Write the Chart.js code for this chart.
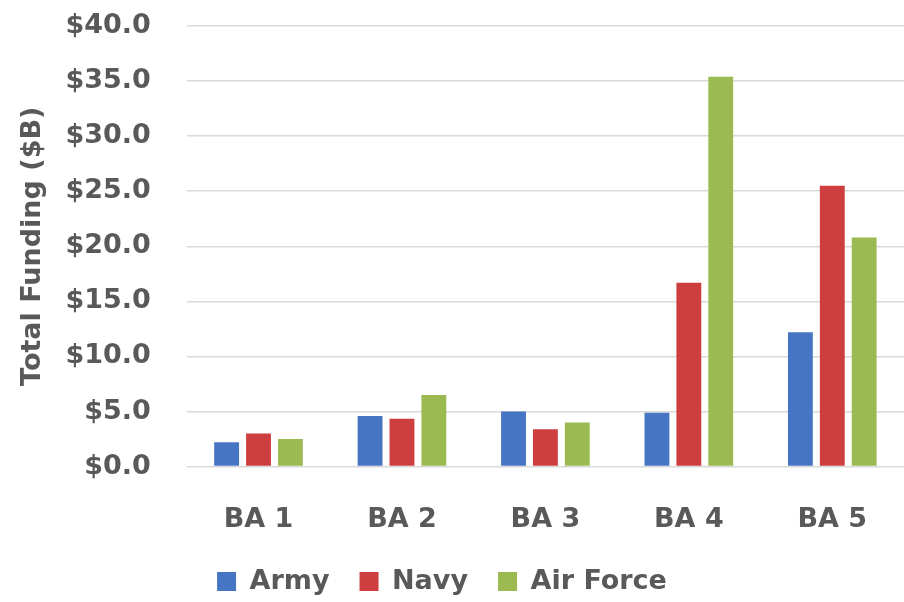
<!DOCTYPE html>
<html>
<head>
<meta charset="utf-8">
<script src="https://cdn.jsdelivr.net/npm/chart.js@4/dist/chart.umd.min.js"></script>
<style>
  html, body { margin: 0; padding: 0; background: #ffffff; }
  #wrap { width: 904px; height: 602px; position: relative; }
</style>
</head>
<body>
<div id="wrap"><canvas id="c" width="904" height="602"></canvas></div>
<script>
const categories = ['BA 1', 'BA 2', 'BA 3', 'BA 4', 'BA 5'];
const seriesNames = ['Army', 'Navy', 'Air Force'];
const army = [2.2, 4.6, 5.0, 4.9, 12.2];
const navy = [3.0, 4.35, 3.4, 16.7, 25.5];
const airForce = [2.5, 6.5, 4.0, 35.4, 20.8];
const yTicks = [0, 5, 10, 15, 20, 25, 30, 35, 40];
const colors = ['#4675C4', '#CF3E3E', '#9BBB52'];

const textColor = '#595959';
const fontFamily = '"DejaVu Sans", sans-serif';

const values = [army, navy, airForce];
const datasets = seriesNames.map((name, i) => ({
  label: name,
  data: values[i],
  backgroundColor: colors[i],
  borderWidth: 0,
  barPercentage: 0.78,
  categoryPercentage: 0.667
}));

new Chart(document.getElementById('c'), {
  type: 'bar',
  data: { labels: categories, datasets },
  options: {
    responsive: false,
    animation: false,
    layout: { padding: { left: -20, right: 0, top: 26, bottom: -3 } },
    plugins: {
      tooltip: { enabled: false },
      legend: {
        position: 'bottom',
        labels: {
          color: textColor,
          font: { family: fontFamily, size: 27, weight: 'bold' },
          boxWidth: 19,
          boxHeight: 19,
          padding: 30
        }
      }
    },
    scales: {
      x: {
        grid: { display: true, drawOnChartArea: false, drawTicks: true, tickLength: 35, tickColor: 'rgba(0,0,0,0)' },
        border: { display: false },
        ticks: {
          color: textColor,
          font: { family: fontFamily, size: 27, weight: 'bold' },
          padding: 2
        }
      },
      y: {
        min: 0,
        max: 40,
        afterBuildTicks: (axis) => { axis.ticks = yTicks.map(v => ({ value: v })); },
        grid: { color: '#D9D9D9', lineWidth: 1.5, drawTicks: true, tickLength: 30, tickColor: 'rgba(0,0,0,0)' },
        border: { display: false },
        ticks: {
          color: textColor,
          font: { family: fontFamily, size: 27, weight: 'bold' },
          padding: 6,
          callback: (v) => '$' + Number(v).toFixed(1)
        },
        title: {
          display: true,
          text: 'Total Funding ($B)',
          color: textColor,
          font: { family: fontFamily, size: 27, weight: 'bold' },
          padding: { top: 37, bottom: 10 }
        }
      }
    }
  }
});
</script>
</body>
</html>
